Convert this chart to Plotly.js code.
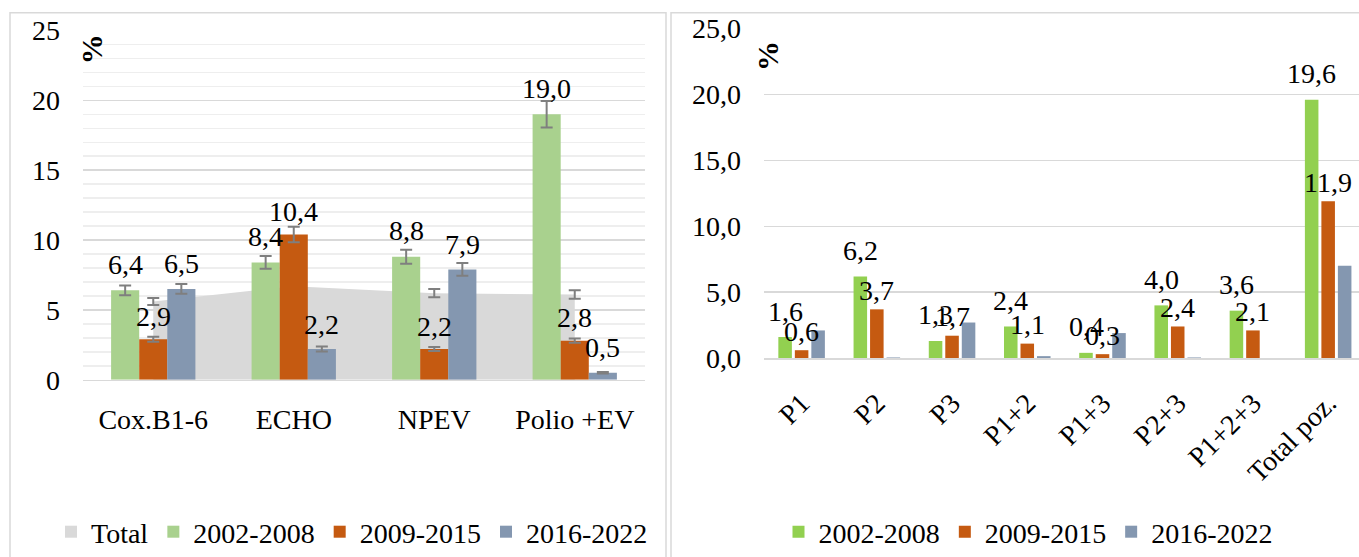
<!DOCTYPE html>
<html>
<head>
<meta charset="utf-8">
<script src="https://cdn.plot.ly/plotly-3.0.1.min.js"></script>
<style>html,body{margin:0;padding:0;background:#fff;}#chart{width:1359px;height:557px;}</style>
</head>
<body>
<div id="chart"></div>
<script>
// ---- Data (left chart) ----
const leftCats = ['Cox.B1-6', 'ECHO', 'NPEV', 'Polio +EV'];
const leftTotal = [5.6, 6.7, 6.2, 6.1];
const leftTotalErr = [0.25, 0.3, 0.3, 0.3];
const left2002 = [6.4, 8.4, 8.8, 19.0];
const left2002Err = [0.35, 0.45, 0.5, 0.95];
const left2009 = [2.9, 10.4, 2.2, 2.8];
const left2009Err = [0.18, 0.55, 0.15, 0.15];
const left2016 = [6.5, 2.2, 7.9, 0.5];
const left2016Err = [0.35, 0.18, 0.45, 0.05];

// ---- Data (right chart) ----
const rightCats = ['P1', 'P2', 'P3', 'P1+2', 'P1+3', 'P2+3', 'P1+2+3', 'Total poz.'];
const right2002 = [1.6, 6.2, 1.3, 2.4, 0.4, 4.0, 3.6, 19.6];
const right2009 = [0.6, 3.7, 1.7, 1.1, 0.3, 2.4, 2.1, 11.9];
const right2016 = [2.1, 0.05, 2.7, 0.15, 1.9, 0.05, 0, 7.0];

const seriesNames = ['2002-2008', '2009-2015', '2016-2022'];
const leftTicks = [0, 5, 10, 15, 20, 25];
const rightTicks = [0, 5, 10, 15, 20, 25];

// ---- Styles ----
const FONT = 'Liberation Serif, Times New Roman, serif';
const W = 1359, H = 557;
const colLeft = ['#a9d18e', '#c55a11', '#8497b0'];
const colRight = ['#92d050', '#c55a11', '#8497b0'];
const totalCol = '#d9d9d9';
const errCol = '#7f7f7f';
const px = (v) => v / W;
const py = (v) => (H - v) / H;

function errStyle(arr) {
  return {type: 'data', array: arr, visible: true, color: errCol, thickness: 2, width: 6};
}

const traces = [];

// Legend-only entry for Total (zero-width bars, nothing visible)
traces.push({
  type: 'bar', name: 'Total', x: leftCats, y: leftTotal, width: 0,
  marker: {color: totalCol, line: {width: 0}}, xaxis: 'x', yaxis: 'y', legend: 'legend'
});
// Total area (base subplot, drawn beneath bars)
traces.push({
  type: 'scatter', mode: 'lines', name: 'Total', x: leftCats, y: leftTotal,
  fill: 'tozeroy', fillcolor: totalCol, line: {width: 0, color: totalCol},
  error_y: errStyle(leftTotalErr), showlegend: false, xaxis: 'x', yaxis: 'y'
});
// Left bars on overlay subplot
const leftVals = [left2002, left2009, left2016];
const leftErrs = [left2002Err, left2009Err, left2016Err];
leftVals.forEach((vals, i) => {
  traces.push({
    type: 'bar', name: seriesNames[i], x: leftCats, y: vals,
    marker: {color: colLeft[i], line: {width: 0}},
    error_y: errStyle(leftErrs[i]),
    xaxis: 'x3', yaxis: 'y3', legend: 'legend'
  });
});
// Right bars
const rightVals = [right2002, right2009, right2016];
const rW = 0.18, rSlot = 0.2194;
rightVals.forEach((vals, i) => {
  traces.push({
    type: 'bar', name: seriesNames[i], x: rightCats, y: vals,
    width: rW, offset: (i - 1) * rSlot - rW / 2,
    marker: {color: colRight[i], line: {width: 0}},
    xaxis: 'x2', yaxis: 'y2', legend: 'legend2'
  });
});

// Data labels
const fmt = (v) => v.toFixed(1).replace('.', ',');
const annotations = [];
const leftShiftY = [26, 23, 25];
leftVals.forEach((vals, i) => {
  vals.forEach((v, j) => {
    annotations.push({
      xref: 'x', yref: 'y', x: leftCats[j], y: v, text: fmt(v), showarrow: false,
      xshift: (i - 1) * 28, yshift: leftShiftY[i], yanchor: 'middle', xanchor: 'center',
      font: {family: FONT, size: 28, color: '#000'}
    });
  });
});
const rightShiftY = [26, 19];
[right2002, right2009].forEach((vals, i) => {
  vals.forEach((v, j) => {
    annotations.push({
      xref: 'x2', yref: 'y2', x: rightCats[j], y: v, text: fmt(v), showarrow: false,
      xshift: (i - 1) * 16.5, yshift: rightShiftY[i], yanchor: 'middle', xanchor: 'center',
      font: {family: FONT, size: 28, color: '#000'}
    });
  });
});
// % axis titles
annotations.push({xref: 'paper', yref: 'paper', x: px(91), y: py(50), text: '<b>%</b>', textangle: -90,
  showarrow: false, xanchor: 'center', yanchor: 'middle', font: {family: FONT, size: 30, color: '#000'}});
annotations.push({xref: 'paper', yref: 'paper', x: px(767), y: py(57), text: '<b>%</b>', textangle: -90,
  showarrow: false, xanchor: 'center', yanchor: 'middle', font: {family: FONT, size: 30, color: '#000'}});

const leftDomX = [px(83), px(645)];
const leftDomY = [py(386), py(31)];
const rightDomX = [px(764), 1];
const rightDomY = [py(364), py(29)];

const layout = {
  width: W, height: H,
  margin: {l: 0, r: 0, t: 0, b: 0},
  paper_bgcolor: '#ffffff', plot_bgcolor: 'rgba(0,0,0,0)',
  separators: ', ',
  font: {family: FONT, size: 28, color: '#000'},
  barmode: 'group', bargap: 0.4, bargroupgap: 0,
  showlegend: true,
  hovermode: false,
  xaxis: {domain: leftDomX, anchor: 'y', type: 'category', categoryarray: leftCats, range: [-0.5, 3.5],
    showgrid: false, zeroline: false, showline: true, linecolor: '#d9d9d9', linewidth: 1.5,
    ticks: '', ticklabelstandoff: 14, tickfont: {family: FONT, size: 28, color: '#000'}},
  yaxis: {domain: leftDomY, anchor: 'x', range: [0, 25], tickvals: leftTicks, tickformat: 'd',
    showgrid: true, gridcolor: '#d9d9d9', gridwidth: 1.5, zeroline: false, showline: false,
    ticks: '', ticklabelstandoff: 22, tickfont: {family: FONT, size: 28, color: '#000'},
    minor: {dtick: 1, showgrid: true, gridcolor: '#eeeeee', gridwidth: 1.5}},
  xaxis3: {overlaying: 'x', anchor: 'y3', type: 'category', categoryarray: leftCats, range: [-0.5, 3.5], visible: false, showgrid: false},
  yaxis3: {overlaying: 'y', anchor: 'x3', range: [0, 25], visible: false, showgrid: false},
  xaxis2: {domain: rightDomX, anchor: 'y2', type: 'category', categoryarray: rightCats, range: [-0.5, 7.41],
    showgrid: false, zeroline: false, showline: true, linecolor: '#d9d9d9', linewidth: 1.5,
    ticks: '', tickangle: -45, ticklabelstandoff: 16, tickfont: {family: FONT, size: 28, color: '#000'}},
  yaxis2: {domain: rightDomY, anchor: 'x2', range: [0, 25], tickvals: rightTicks, tickformat: '.1f',
    showgrid: true, gridcolor: '#d9d9d9', gridwidth: 1.5, zeroline: false, showline: false,
    ticks: '', ticklabelstandoff: 22, tickfont: {family: FONT, size: 28, color: '#000'}},
  legend: {orientation: 'h', x: px(352), xanchor: 'center', y: py(541), yanchor: 'middle',
    font: {family: FONT, size: 28, color: '#000'}, bgcolor: 'rgba(0,0,0,0)', traceorder: 'normal'},
  legend2: {orientation: 'h', x: px(1028), xanchor: 'center', y: py(541), yanchor: 'middle',
    font: {family: FONT, size: 28, color: '#000'}, bgcolor: 'rgba(0,0,0,0)', traceorder: 'normal'},
  shapes: [
    {type: 'rect', xref: 'paper', yref: 'paper', x0: px(10), x1: px(666), y0: -0.1, y1: py(13),
      line: {color: '#d9d9d9', width: 1.5}, fillcolor: 'rgba(0,0,0,0)', layer: 'below'},
    {type: 'rect', xref: 'paper', yref: 'paper', x0: px(671), x1: 1.1, y0: -0.1, y1: py(13),
      line: {color: '#d9d9d9', width: 1.5}, fillcolor: 'rgba(0,0,0,0)', layer: 'below'}
  ],
  annotations: annotations
};

Plotly.newPlot('chart', traces, layout, {staticPlot: true, displayModeBar: false});
</script>
</body>
</html>
